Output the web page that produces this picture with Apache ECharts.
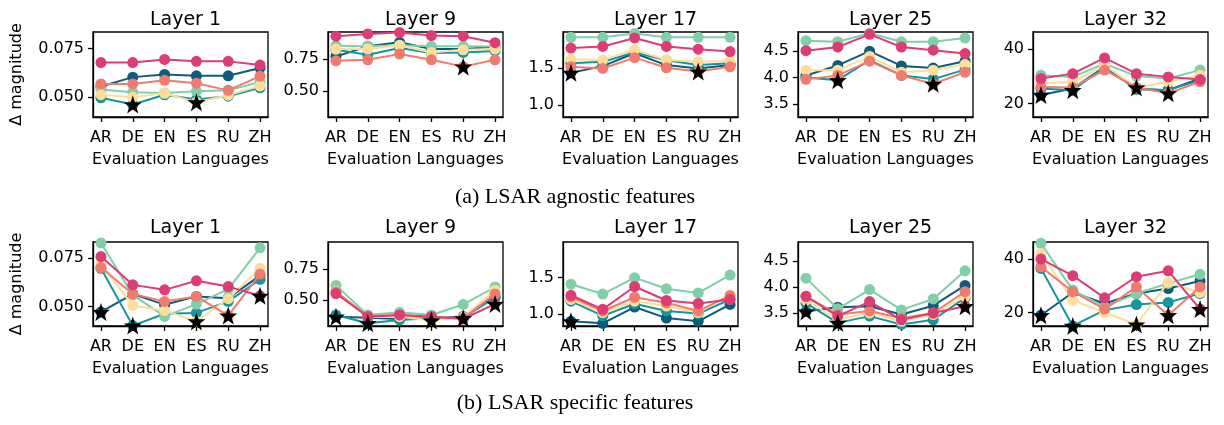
<!DOCTYPE html>
<html>
<head>
<meta charset="utf-8">
<script src="https://cdn.jsdelivr.net/npm/echarts@6/dist/echarts.min.js"></script>
<style>
  html, body { margin: 0; padding: 0; background: #fff; }
  #chart { width: 1224px; height: 425px; }
</style>
</head>
<body>
<div id="chart"></div>
<script>
// Evaluation languages (x axis) — also the intervention language of each line
const languages = ['AR', 'DE', 'EN', 'ES', 'RU', 'ZH'];
const layerTitles = ['Layer 1', 'Layer 9', 'Layer 17', 'Layer 25', 'Layer 32'];
const captions = ['(a) LSAR agnostic features', '(b) LSAR specific features'];
const yTickValues = [[0.050, 0.075], [0.50, 0.75], [1.0, 1.5], [3.5, 4.0, 4.5], [20, 40]];
const yTickDecimals = [3, 2, 1, 1, 0];
const yLimits = [[0.0398, 0.0835], [0.294, 0.964], [0.84, 1.98], [3.25, 4.865], [14.96, 46.4]];

// Δ magnitude, one row per intervention language (AR, DE, EN, ES, RU, ZH),
// one column per evaluation language (AR, DE, EN, ES, RU, ZH)
const agnosticL1 = [
  [0.0555, 0.0603, 0.0617, 0.0610, 0.0610, 0.0650],
  [0.0497, 0.0462, 0.0512, 0.0488, 0.0505, 0.0548],
  [0.0540, 0.0525, 0.0522, 0.0530, 0.0535, 0.0578],
  [0.0513, 0.0500, 0.0520, 0.0474, 0.0510, 0.0558],
  [0.0568, 0.0568, 0.0587, 0.0572, 0.0535, 0.0608],
  [0.0678, 0.0678, 0.0694, 0.0684, 0.0684, 0.0665]
];
const agnosticL9 = [
  [0.771, 0.851, 0.883, 0.830, 0.830, 0.845],
  [0.824, 0.785, 0.838, 0.798, 0.803, 0.815],
  [0.856, 0.851, 0.860, 0.851, 0.851, 0.850],
  [0.830, 0.830, 0.859, 0.803, 0.824, 0.830],
  [0.737, 0.745, 0.790, 0.745, 0.691, 0.745],
  [0.931, 0.949, 0.960, 0.936, 0.931, 0.880]
];
const agnosticL17 = [
  [1.432, 1.523, 1.695, 1.536, 1.491, 1.536],
  [1.560, 1.582, 1.705, 1.600, 1.536, 1.560],
  [1.909, 1.909, 1.960, 1.909, 1.909, 1.909],
  [1.614, 1.605, 1.741, 1.605, 1.582, 1.591],
  [1.514, 1.491, 1.636, 1.500, 1.450, 1.514],
  [1.764, 1.786, 1.900, 1.786, 1.750, 1.718]
];
const agnosticL25 = [
  [4.04, 4.23, 4.50, 4.22, 4.18, 4.31],
  [4.00, 3.95, 4.33, 4.04, 3.97, 4.15],
  [4.70, 4.68, 4.84, 4.68, 4.68, 4.75],
  [4.14, 4.14, 4.40, 4.10, 4.14, 4.25],
  [3.965, 4.04, 4.31, 4.04, 3.88, 4.10],
  [4.51, 4.58, 4.82, 4.58, 4.52, 4.455]
];
const agnosticL32 = [
  [23.1, 25.5, 33.5, 25.2, 24.9, 29.2],
  [25.5, 24.9, 33.5, 25.5, 24.9, 28.6],
  [30.4, 29.8, 34.7, 30.1, 29.2, 32.3],
  [27.4, 28.0, 34.1, 25.9, 28.0, 30.4],
  [26.1, 25.9, 32.3, 25.9, 23.7, 28.0],
  [29.2, 31.0, 36.8, 31.0, 29.8, 28.8]
];

const specificL1 = [
  [0.0471, 0.0564, 0.0509, 0.0552, 0.0543, 0.0660],
  [0.0698, 0.0400, 0.0462, 0.0466, 0.0526, 0.0640],
  [0.0830, 0.0560, 0.0448, 0.0512, 0.0590, 0.0805],
  [0.0719, 0.0505, 0.0478, 0.0422, 0.0540, 0.0699],
  [0.0702, 0.0564, 0.0526, 0.0552, 0.0452, 0.0668],
  [0.0759, 0.0612, 0.0586, 0.0633, 0.0603, 0.0555]
];
const specificL9 = [
  [0.368, 0.360, 0.350, 0.355, 0.370, 0.530],
  [0.382, 0.316, 0.342, 0.355, 0.360, 0.520],
  [0.618, 0.382, 0.403, 0.382, 0.466, 0.605],
  [0.571, 0.365, 0.368, 0.337, 0.365, 0.580],
  [0.566, 0.374, 0.382, 0.368, 0.355, 0.550],
  [0.553, 0.368, 0.382, 0.368, 0.350, 0.470]
];
const specificL17 = [
  [0.903, 0.876, 1.097, 0.947, 0.903, 1.133],
  [1.177, 0.978, 1.142, 1.044, 1.009, 1.200],
  [1.407, 1.274, 1.496, 1.345, 1.288, 1.531],
  [1.200, 1.022, 1.177, 1.110, 1.022, 1.265],
  [1.235, 1.044, 1.230, 1.155, 1.044, 1.252],
  [1.257, 1.066, 1.376, 1.186, 1.146, 1.199]
];
const specificL25 = [
  [3.53, 3.61, 3.63, 3.47, 3.64, 4.03],
  [3.69, 3.31, 3.44, 3.28, 3.37, 3.79],
  [4.17, 3.58, 3.95, 3.56, 3.77, 4.31],
  [3.75, 3.37, 3.50, 3.34, 3.47, 3.82],
  [3.82, 3.47, 3.54, 3.40, 3.50, 3.91],
  [3.82, 3.44, 3.72, 3.37, 3.50, 3.63]
];
const specificL32 = [
  [19.0, 27.5, 23.4, 27.1, 29.0, 31.8],
  [36.5, 15.0, 20.9, 23.0, 23.8, 27.1],
  [45.9, 28.4, 22.1, 27.1, 30.9, 34.3],
  [42.1, 24.6, 20.0, 15.5, 31.3, 27.5],
  [37.1, 27.8, 21.3, 29.6, 19.0, 29.6],
  [40.0, 33.8, 25.5, 33.4, 35.6, 21.3]
];

// Languages whose matched (intervention = evaluation) point is marked with a star
const agnosticStars = [[1, 3], [4], [0, 4], [1, 4], [0, 1, 3, 4]];
const specificStars = [[0, 1, 3, 4, 5], [0, 1, 3, 4, 5], [0], [0, 1, 5], [0, 1, 3, 4, 5]];

const rows = [
  { panels: [agnosticL1, agnosticL9, agnosticL17, agnosticL25, agnosticL32], stars: agnosticStars },
  { panels: [specificL1, specificL9, specificL17, specificL25, specificL32], stars: specificStars }
];

// ---- styling / layout ----
const COLORS = ['#0f5b7d', '#15959c', '#80cfa8', '#fcde98', '#f07b6f', '#dc3d74'];
const STAR = 'path://M50,0 L61.8,35.1 L97.6,34.5 L69,56.5 L79.4,90.5 L50,70 L20.6,90.5 L31,56.5 L2.4,34.5 L38.2,35.1 Z';
const FONT = 'DejaVu Sans';
const gridLefts = [93, 328, 563, 798, 1033];
const gridWidth = 175;
const rowTops = [32, 242];
const rowHeights = [85, 84];
const titleTops = [6, 214];
const captionTops = [181, 387];

const grid = [], xAxis = [], yAxis = [], series = [], title = [];

rows.forEach((row, r) => {
  row.panels.forEach((values, c) => {
    const k = grid.length;
    grid.push({
      left: gridLefts[c], top: rowTops[r], width: gridWidth, height: rowHeights[r],
      show: true, borderColor: '#000', borderWidth: 1.3, backgroundColor: 'transparent'
    });
    xAxis.push({
      type: 'value', gridIndex: k, min: -0.25, max: 5.25, position: 'bottom',
      name: 'Evaluation Languages', nameLocation: 'middle', nameGap: 35,
      nameTextStyle: { fontFamily: FONT, fontSize: 16, color: '#000' },
      axisLine: { show: true, onZero: false, lineStyle: { color: '#000', width: 1.3 } },
      splitLine: { show: false },
      axisTick: { show: true, inside: false, length: 5, lineStyle: { color: '#000', width: 1.3 }, customValues: [0, 1, 2, 3, 4, 5] },
      axisLabel: {
        customValues: [0, 1, 2, 3, 4, 5], margin: 13,
        fontFamily: FONT, fontSize: 16, color: '#000',
        formatter: v => languages[Math.round(v)]
      }
    });
    const lim = yLimits[c];
    yAxis.push({
      type: 'value', gridIndex: k, min: lim[0], max: lim[1], position: 'left',
      name: c === 0 ? 'Δ magnitude' : '', nameLocation: 'middle', nameGap: 68, nameRotate: 90,
      nameTextStyle: { fontFamily: FONT, fontSize: 16, color: '#000' },
      axisLine: { show: true, onZero: false, lineStyle: { color: '#000', width: 1.3 } },
      splitLine: { show: false },
      axisTick: { show: true, inside: false, length: 5, lineStyle: { color: '#000', width: 1.3 }, customValues: yTickValues[c] },
      axisLabel: {
        customValues: yTickValues[c], margin: 9,
        fontFamily: FONT, fontSize: 16, color: '#000',
        formatter: v => v.toFixed(yTickDecimals[c])
      }
    });
    title.push({
      text: layerTitles[c], left: gridLefts[c] + gridWidth / 2, top: titleTops[r], textAlign: 'center',
      textStyle: { fontFamily: FONT, fontSize: 19, fontWeight: 'normal', color: '#000' }
    });
    values.forEach((vals, i) => {
      series.push({
        type: 'line', xAxisIndex: k, yAxisIndex: k, z: 2 + i,
        data: vals.map((v, j) => [j, v]),
        symbol: 'circle', symbolSize: 11, clip: true,
        lineStyle: { width: 2, color: COLORS[i] },
        itemStyle: { color: COLORS[i], opacity: 1 },
        emphasis: { disabled: true }, animation: false
      });
    });
    series.push({
      type: 'scatter', xAxisIndex: k, yAxisIndex: k, z: 20, clip: true,
      data: row.stars[c].map(i => [i, values[i][i]]),
      symbol: STAR, symbolSize: 18,
      itemStyle: { color: '#000', opacity: 1 }, emphasis: { disabled: true }, animation: false
    });
  });
  title.push({
    text: captions[r], left: 570, top: captionTops[r], textAlign: 'center',
    textStyle: { fontFamily: 'Liberation Serif', fontSize: 22, fontWeight: 'normal', color: '#000' }
  });
});

const chart = echarts.init(document.getElementById('chart'), null, { renderer: 'canvas' });
chart.setOption({ backgroundColor: '#fff', animation: false, title, grid, xAxis, yAxis, series });
</script>
</body>
</html>
